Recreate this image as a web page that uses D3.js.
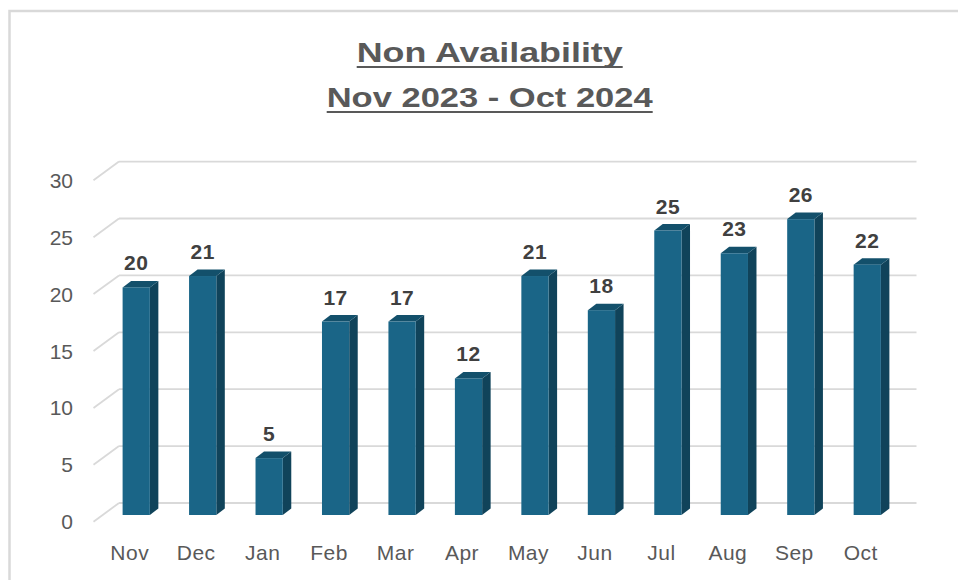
<!DOCTYPE html>
<html>
<head>
<meta charset="utf-8">
<script src="https://cdn.jsdelivr.net/npm/d3@7"></script>
<style>
  body { margin: 0; background: #fff; }
  svg { display: block; }
</style>
</head>
<body>
<div id="chart"></div>
<script>
var months = ["Nov", "Dec", "Jan", "Feb", "Mar", "Apr", "May", "Jun", "Jul", "Aug", "Sep", "Oct"];
var values = [20, 21, 5, 17, 17, 12, 21, 18, 25, 23, 26, 22];
var yTicks = [0, 5, 10, 15, 20, 25, 30];
var titleLines = ["Non Availability", "Nov 2023 - Oct 2024"];

let width = 958, height = 580;
let font = "'Liberation Sans', Arial, sans-serif";

// depth offsets (bar plane -> back wall, bar top/side)
let dxBar = 8.5, dyBar = -6.5;
let dyBack = -12, dxBack = 16;
let dyFront = 6.7, dxFront = -9;

let svg = d3.select("#chart")
    .append("svg")
    .attr("width", width)
    .attr("height", height);

// outer chart border
svg.append("rect")
    .attr("x", 9.5)
    .attr("y", 11)
    .attr("width", 1000)
    .attr("height", 700)
    .attr("fill", "#fff")
    .attr("stroke", "#d9d9d9")
    .attr("stroke-width", 2.5);

let x = d3.scaleBand()
    .domain(months)
    .range([103, 900.5])
    .paddingInner(0.59)
    .paddingOuter(0.295);

let y = d3.scaleLinear()
    .domain([0, 30])
    .range([515, 173.6]);

// back wall gridlines + left side diagonals
let grid = svg.append("g");
yTicks.forEach(function(t) {
    let yb = y(t) + dyBack;
    grid.append("line")
        .attr("x1", 103 + dxBack).attr("x2", 900.5 + dxBack)
        .attr("y1", yb).attr("y2", yb)
        .attr("stroke", "#d9d9d9").attr("stroke-width", 1.8);
    grid.append("line")
        .attr("x1", 103 + dxFront - 0.5).attr("y1", y(t) + dyFront)
        .attr("x2", 103 + dxBack).attr("y2", yb)
        .attr("stroke", "#d9d9d9").attr("stroke-width", 1.8);
});

// y labels
svg.append("g")
    .selectAll("text")
    .data(yTicks)
    .enter()
    .append("text")
    .attr("x", 73)
    .attr("y", function(d) { return y(d) + dyFront; })
    .attr("dy", "0.36em")
    .attr("text-anchor", "end")
    .style("font-family", font)
    .style("font-size", "21px")
    .style("fill", "#595959")
    .text(function(d) { return d; });

// bars
let bars = svg.append("g")
    .selectAll("g")
    .data(values)
    .enter()
    .append("g");

let w = x.bandwidth();

bars.append("polygon")
    .attr("points", function(d, i) {
        let x0 = x(months[i]) + w, y0 = y(d), yb = y(0);
        return [[x0, y0], [x0 + dxBar, y0 + dyBar], [x0 + dxBar, yb + dyBar], [x0, yb]].join(" ");
    })
    .style("fill", "#10435a");

bars.append("polygon")
    .attr("points", function(d, i) {
        let x0 = x(months[i]), y0 = y(d);
        return [[x0, y0], [x0 + dxBar, y0 + dyBar], [x0 + w + dxBar, y0 + dyBar], [x0 + w, y0]].join(" ");
    })
    .style("fill", "#13506b");

bars.append("rect")
    .attr("x", function(d, i) { return x(months[i]); })
    .attr("y", function(d) { return y(d); })
    .attr("width", w)
    .attr("height", function(d) { return y(0) - y(d); })
    .style("fill", "#1a6587");

// value labels
bars.append("text")
    .attr("x", function(d, i) { return x(months[i]) + w / 2; })
    .attr("y", function(d) { return y(d) - 17; })
    .attr("text-anchor", "middle")
    .style("font-family", font)
    .style("font-size", "21px")
    .style("font-weight", "bold")
    .style("letter-spacing", "0.5px")
    .style("fill", "#404040")
    .text(function(d) { return d; });

// x labels
svg.append("g")
    .selectAll("text")
    .data(months)
    .enter()
    .append("text")
    .attr("x", function(d) { return x(d) + w / 2 - 6.5; })
    .attr("y", 552)
    .attr("dy", "0.36em")
    .attr("text-anchor", "middle")
    .style("font-family", font)
    .style("font-size", "21px")
    .style("letter-spacing", "0.5px")
    .style("fill", "#595959")
    .text(function(d) { return d; });

// title, underlined
let titleBase = [62, 107];
let titleWidth = [266, 326];
titleLines.forEach(function(line, i) {
    svg.append("text")
        .attr("x", 489.7)
        .attr("y", titleBase[i])
        .attr("text-anchor", "middle")
        .attr("textLength", titleWidth[i])
        .attr("lengthAdjust", "spacingAndGlyphs")
        .style("font-family", font)
        .style("font-size", "28px")
        .style("font-weight", "bold")
        .style("fill", "#595959")
        .text(line);
    svg.append("line")
        .attr("x1", 489.7 - titleWidth[i] / 2)
        .attr("x2", 489.7 + titleWidth[i] / 2)
        .attr("y1", titleBase[i] + 5)
        .attr("y2", titleBase[i] + 5)
        .attr("stroke", "#595959")
        .attr("stroke-width", 2);
});
</script>
</body>
</html>
